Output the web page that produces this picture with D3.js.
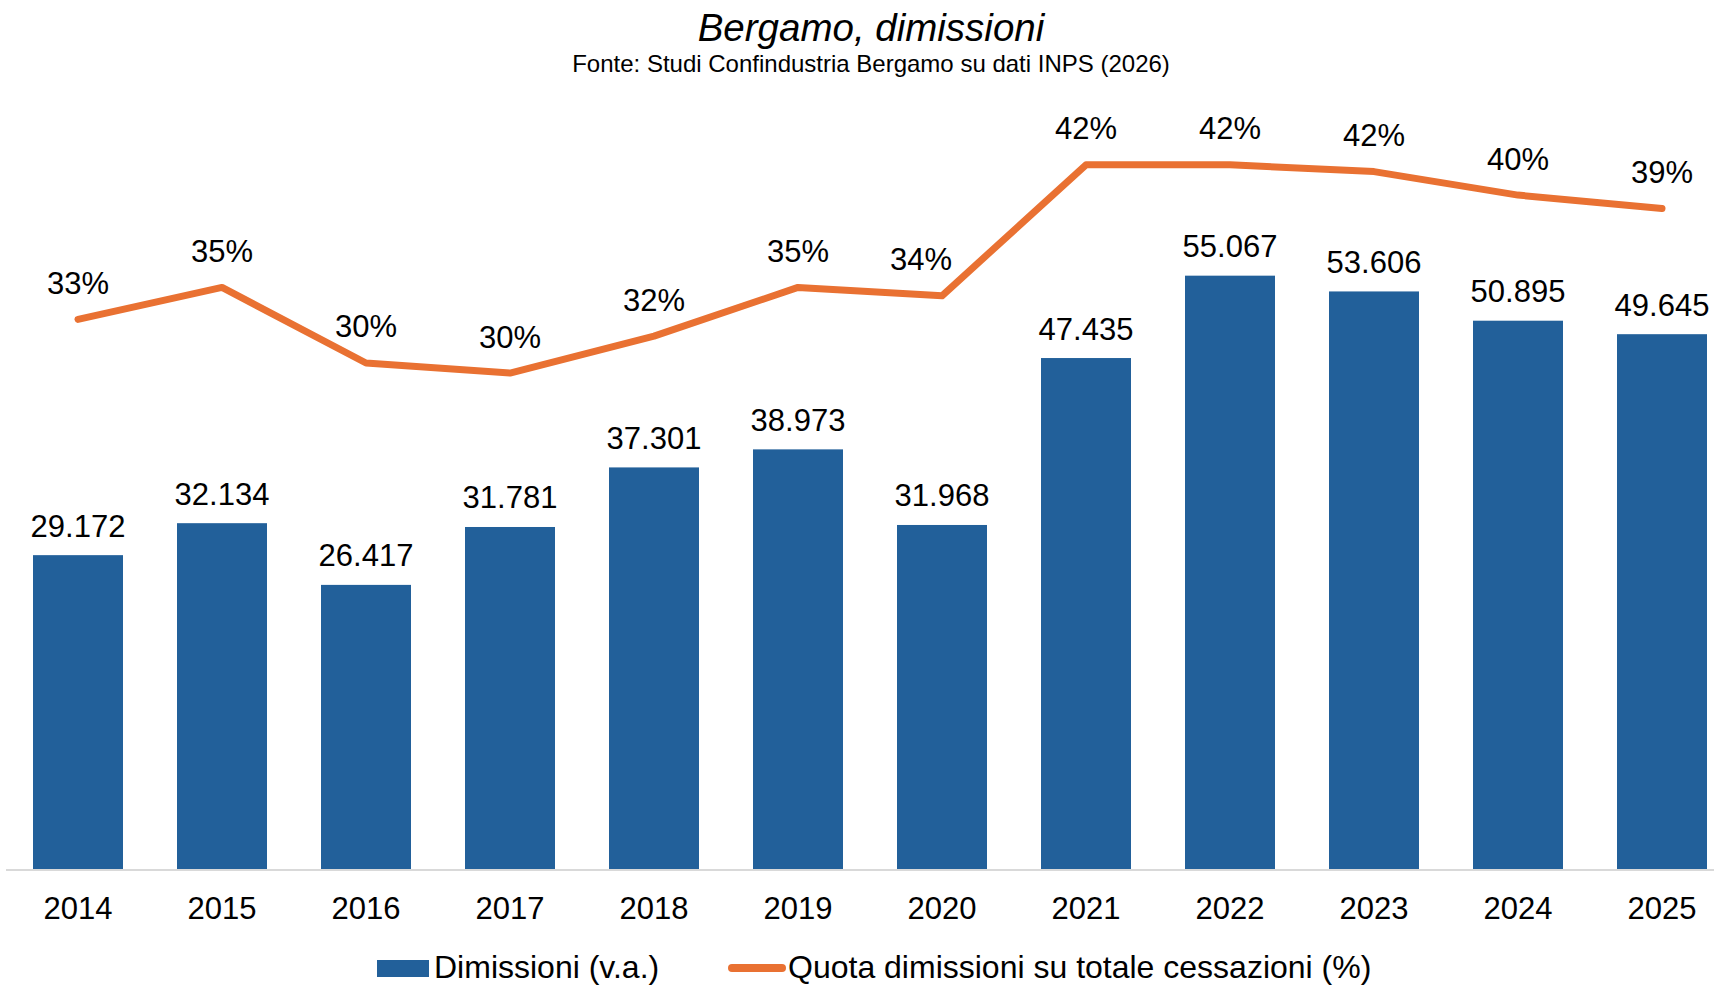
<!DOCTYPE html>
<html>
<head>
<meta charset="utf-8">
<script src="https://cdn.jsdelivr.net/npm/d3@7"></script>
<style>
  body { margin: 0; background: #fff; }
  text { font-family: "Liberation Sans", Arial, sans-serif; fill: #000; }
</style>
</head>
<body>
<script>
const years = ["2014", "2015", "2016", "2017", "2018", "2019", "2020", "2021", "2022", "2023", "2024", "2025"];
const dimissioni = [29172, 32134, 26417, 31781, 37301, 38973, 31968, 47435, 55067, 53606, 50895, 49645];
const quota = [32.8, 34.7, 30.2, 29.6, 31.8, 34.7, 34.2, 42.0, 42.0, 41.6, 40.2, 39.4];

const W = 1714, H = 987;
const blue = "#22609A", orange = "#E97132";

const svg = d3.select("body").append("svg").attr("width", W).attr("height", H);

const x = d3.scaleBand().domain(years).range([6, 1734]).paddingInner(0.375).paddingOuter(0.1875);
const y = d3.scaleLinear().domain([0, 70000]).range([870, 114.5]);
const y2 = d3.scaleLinear().domain([0, 45]).range([870, 114.5]);

const fmt = d3.formatLocale({ decimal: ",", thousands: ".", grouping: [3], currency: ["", "€"] }).format(",d");

// bars
svg.append("g").selectAll("rect").data(years).join("rect")
  .attr("x", d => x(d))
  .attr("width", x.bandwidth())
  .attr("y", (d, i) => y(dimissioni[i]))
  .attr("height", (d, i) => y(0) - y(dimissioni[i]))
  .attr("fill", blue);

// axis line
svg.append("line").attr("x1", 6).attr("x2", W).attr("y1", 870).attr("y2", 870)
  .attr("stroke", "#d9d9d9").attr("stroke-width", 2);

// year labels
svg.append("g").selectAll("text").data(years).join("text")
  .attr("x", d => x(d) + x.bandwidth() / 2)
  .attr("y", 919)
  .attr("text-anchor", "middle")
  .attr("font-size", 31)
  .text(d => d);

// bar labels
svg.append("g").selectAll("text").data(years).join("text")
  .attr("x", d => x(d) + x.bandwidth() / 2)
  .attr("y", (d, i) => y(dimissioni[i]) - 18.5)
  .attr("text-anchor", "middle")
  .attr("font-size", 31)
  .text((d, i) => fmt(dimissioni[i]));

// line
const line = d3.line()
  .x((d, i) => x(years[i]) + x.bandwidth() / 2)
  .y(d => y2(d));
svg.append("path").datum(quota)
  .attr("d", line)
  .attr("fill", "none")
  .attr("stroke", orange)
  .attr("stroke-width", 7)
  .attr("stroke-linecap", "round")
  .attr("stroke-linejoin", "round");

// 2020 label was nudged left in the original so it doesn't sit on the line
svg.append("g").selectAll("text").data(quota).join("text")
  .attr("x", (d, i) => x(years[i]) + x.bandwidth() / 2 + (years[i] === "2020" ? -21 : 0))
  .attr("y", d => y2(d) - 25.5)
  .attr("text-anchor", "middle")
  .attr("font-size", 31)
  .text(d => Math.round(d) + "%");

// title
svg.append("text").attr("x", 871).attr("y", 41).attr("text-anchor", "middle")
  .attr("font-size", 38.5).attr("font-style", "italic").text("Bergamo, dimissioni");
svg.append("text").attr("x", 871).attr("y", 72).attr("text-anchor", "middle")
  .attr("font-size", 24).text("Fonte: Studi Confindustria Bergamo su dati INPS (2026)");

// legend
const lg = svg.append("g");
lg.append("rect").attr("x", 377).attr("y", 960).attr("width", 52).attr("height", 17).attr("fill", blue);
lg.append("text").attr("x", 434).attr("y", 978).attr("font-size", 32).text("Dimissioni (v.a.)");
lg.append("line").attr("x1", 732).attr("x2", 782).attr("y1", 968).attr("y2", 968)
  .attr("stroke", orange).attr("stroke-width", 8).attr("stroke-linecap", "round");
lg.append("text").attr("x", 788).attr("y", 978).attr("font-size", 32).text("Quota dimissioni su totale cessazioni (%)");
</script>
</body>
</html>
